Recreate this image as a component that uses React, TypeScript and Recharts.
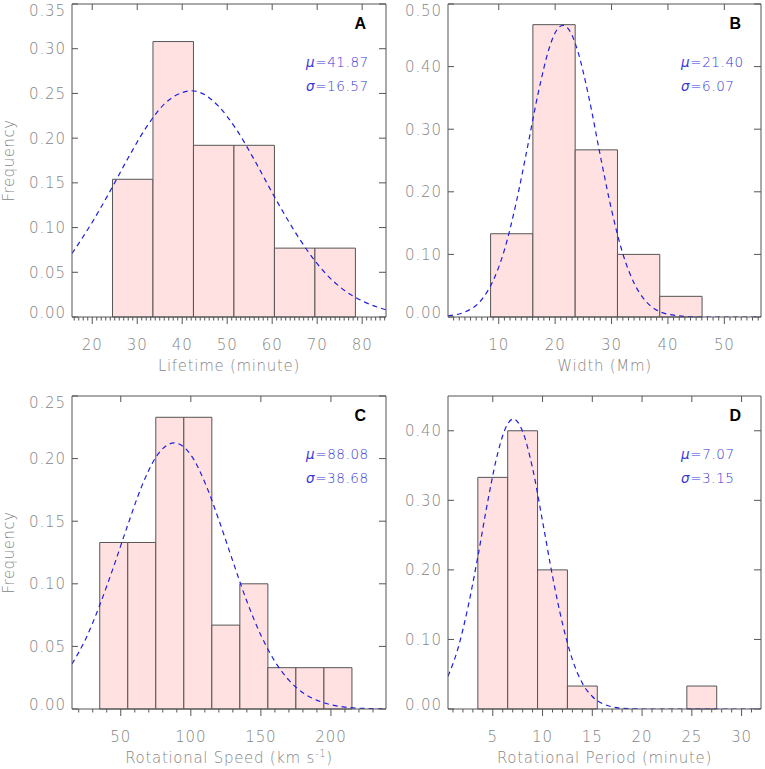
import React from 'react';
import { ComposedChart, XAxis, YAxis, Line, ReferenceArea } from 'recharts';

// ---------- Panel A: Lifetime ----------
const lifetimeEdges = [24.5, 33.5, 42.5, 51.5, 60.5, 69.5, 78.5];
const lifetimeFreq = [0.154, 0.308, 0.192, 0.192, 0.077, 0.077];
const lifetimeFitX = [15.5, 20, 24, 28, 32, 36, 40, 42, 44, 48, 52, 56, 60, 64, 68, 72, 76, 80, 85.3];
const lifetimeFitY = [0.071, 0.106, 0.141, 0.178, 0.212, 0.238, 0.251, 0.253, 0.251, 0.236, 0.210, 0.176, 0.139, 0.104, 0.073, 0.048, 0.030, 0.018, 0.008];
const lifetimeXTicks = [20, 30, 40, 50, 60, 70, 80];
const lifetimeYTicks = [0, 0.05, 0.1, 0.15, 0.2, 0.25, 0.3, 0.35];

// ---------- Panel B: Width ----------
const widthEdges = [8.55, 16.05, 23.55, 31.05, 38.55, 46.05];
const widthFreq = [0.133, 0.467, 0.267, 0.1, 0.033];
const widthFitX = [1, 4, 7, 9, 11, 13, 15, 17, 19, 20, 21.4, 23, 24, 26, 28, 30, 32, 34, 36, 38, 41, 45, 50, 56.5];
const widthFitY = [0.002, 0.008, 0.028, 0.058, 0.107, 0.179, 0.267, 0.358, 0.431, 0.454, 0.466, 0.450, 0.425, 0.350, 0.258, 0.171, 0.101, 0.054, 0.026, 0.011, 0.003, 0.0, 0.0, 0.0];
const widthXTicks = [10, 20, 30, 40, 50];
const widthYTicks = [0, 0.1, 0.2, 0.3, 0.4, 0.5];

// ---------- Panel C: Rotational speed ----------
const speedEdges = [35, 55, 75, 95, 115, 135, 155, 175, 195, 215];
const speedFreq = [0.133, 0.133, 0.233, 0.233, 0.067, 0.1, 0.033, 0.033, 0.033];
const speedFitX = [15.2, 25, 35, 45, 55, 65, 75, 88, 100, 110, 120, 130, 140, 150, 160, 170, 180, 195, 210, 225, 239.3];
const speedFitY = [0.036, 0.056, 0.083, 0.114, 0.147, 0.178, 0.201, 0.2125, 0.203, 0.181, 0.151, 0.118, 0.086, 0.059, 0.038, 0.023, 0.013, 0.005, 0.0015, 0.0004, 0.0001];
const speedXTicks = [50, 100, 150, 200];
const speedYTicks = [0, 0.05, 0.1, 0.15, 0.2, 0.25];

// ---------- Panel D: Rotational period ----------
const periodEdges = [3.5, 6.5, 9.5, 12.5, 15.5, 18.5, 21.5, 24.5, 27.5];
const periodFreq = [0.333, 0.4, 0.2, 0.033, 0, 0, 0, 0.033];
const periodFitX = [0.5, 1.5, 2.5, 3.5, 4.5, 5.5, 6.5, 7.07, 8, 9, 10, 11, 12, 13, 14, 15, 16, 17, 18, 20, 24, 28, 31.9];
const periodFitY = [0.047, 0.087, 0.146, 0.219, 0.299, 0.368, 0.410, 0.417, 0.399, 0.346, 0.270, 0.191, 0.123, 0.071, 0.037, 0.018, 0.008, 0.003, 0.001, 0.0, 0.0, 0.0, 0.0];
const periodXTicks = [5, 10, 15, 20, 25, 30];
const periodYTicks = [0, 0.1, 0.2, 0.3, 0.4];

const FRAME = '#555555';
const LABEL = '#858585';
const BAR_FILL = '#ffe1e1';
const FIT = '#1f1fe0';
const TEXT_BLUE = '#3838d8';
const FONT = '"DejaVu Sans", "Liberation Sans", sans-serif';
const WEIGHT = 200;

const range = (a: number, b: number, step: number) => {
  const out: number[] = [];
  for (let v = a; v <= b + 1e-9; v += step) out.push(Math.round(v * 1000) / 1000);
  return out;
};

const isIn = (arr: number[], v: number) => arr.some((m) => Math.abs(m - v) < 1e-6);

const makeBottomTick = (majors: number[]) => (props: any) => {
  const { x, y, payload } = props;
  const major = isIn(majors, payload.value);
  return (
    <g>
      <line x1={x} x2={x} y1={y} y2={y + (major ? 7 : 3.5)} stroke={FRAME} strokeWidth={1} />
      {major && (
        <text x={x} y={y + 33} textAnchor="middle" fontFamily={FONT} fontWeight={WEIGHT} fontSize={15} letterSpacing={0.9} fill={LABEL}>
          {payload.value}
        </text>
      )}
    </g>
  );
};

const makeTopTick = () => (props: any) => {
  const { x, y } = props;
  return <line x1={x} x2={x} y1={y} y2={y + 6} stroke={FRAME} strokeWidth={1} />;
};

const makeLeftTick = (yMax: number) => (props: any) => {
  const { x, y, payload } = props;
  let dy = 5.5;
  if (Math.abs(payload.value) < 1e-9) dy -= 4.5;
  if (Math.abs(payload.value - yMax) < 1e-9) dy += 6;
  return (
    <g>
      <line x1={x} x2={x + 6} y1={y} y2={y} stroke={FRAME} strokeWidth={1} />
      <text x={x - 6} y={y + dy} textAnchor="end" fontFamily={FONT} fontWeight={WEIGHT} fontSize={15} letterSpacing={0.9} fill={LABEL}>
        {Number(payload.value).toFixed(2)}
      </text>
    </g>
  );
};

const makeRightTick = () => (props: any) => {
  const { x, y } = props;
  return <line x1={x} x2={x - 7} y1={y} y2={y} stroke={FRAME} strokeWidth={1} />;
};

type PanelProps = {
  left: number;
  top: number;
  width: number;
  height: number;
  margin: { top: number; right: number; bottom: number; left: number };
  xDomain: [number, number];
  yDomain: [number, number];
  xMajor: number[];
  xMinor: number[];
  yTicks: number[];
  edges: number[];
  freqs: number[];
  fitX: number[];
  fitY: number[];
  letter: string;
  mu: string;
  sigma: string;
  xTitle: React.ReactNode;
  showYTitle: boolean;
};

const Panel = (p: PanelProps) => {
  const fitData = p.fitX.map((x, i) => ({ x, y: p.fitY[i] }));
  const bottomTicks = Array.from(new Set([...p.xMinor, ...p.xMajor])).sort((a, b) => a - b);
  return (
    <div style={{ position: 'absolute', left: p.left, top: p.top, width: p.width, height: p.height }}>
      <ComposedChart width={p.width} height={p.height} margin={p.margin}>
        <XAxis
          xAxisId="b"
          orientation="bottom"
          type="number"
          dataKey="x"
          domain={p.xDomain}
          allowDataOverflow
          ticks={bottomTicks}
          interval={0}
          height={30}
          tickSize={0}
          tickMargin={0}
          tickLine={false}
          axisLine={{ stroke: FRAME, strokeWidth: 1 }}
          tick={makeBottomTick(p.xMajor)}
          label={{
            content: (lp: any) => {
              const vb = lp.viewBox || {};
              return (
                <text
                  x={vb.x + vb.width / 2}
                  y={vb.y + 54}
                  textAnchor="middle"
                  fontFamily={FONT}
                  fontWeight={WEIGHT}
                  fontSize={15}
                  letterSpacing={0.7}
                  fill={LABEL}
                >
                  {p.xTitle}
                </text>
              );
            },
          }}
        />
        <XAxis
          xAxisId="t"
          orientation="top"
          type="number"
          dataKey="x"
          domain={p.xDomain}
          allowDataOverflow
          ticks={p.xMajor}
          interval={0}
          height={1}
          tickSize={0}
          tickMargin={0}
          tickLine={false}
          axisLine={{ stroke: FRAME, strokeWidth: 1 }}
          tick={makeTopTick()}
        />
        <YAxis
          yAxisId="l"
          orientation="left"
          type="number"
          domain={p.yDomain}
          allowDataOverflow
          ticks={p.yTicks}
          interval={0}
          width={40}
          tickSize={0}
          tickMargin={0}
          tickLine={false}
          axisLine={{ stroke: FRAME, strokeWidth: 1 }}
          tick={makeLeftTick(p.yDomain[1])}
          label={
            p.showYTitle
              ? {
                  content: (lp: any) => {
                    const vb = lp.viewBox || {};
                    const cx = vb.x + vb.width - 57.7;
                    const cy = vb.y + vb.height / 2;
                    return (
                      <text
                        x={cx}
                        y={cy}
                        transform={`rotate(-90 ${cx} ${cy})`}
                        textAnchor="middle"
                        fontFamily={FONT}
                        fontWeight={WEIGHT}
                        fontSize={15}
                        letterSpacing={0.5}
                        fill={LABEL}
                      >
                        Frequency
                      </text>
                    );
                  },
                }
              : undefined
          }
        />
        <YAxis
          yAxisId="r"
          orientation="right"
          type="number"
          domain={p.yDomain}
          allowDataOverflow
          ticks={p.yTicks}
          interval={0}
          width={1}
          tickSize={0}
          tickMargin={0}
          tickLine={false}
          axisLine={{ stroke: FRAME, strokeWidth: 1 }}
          tick={makeRightTick()}
          label={{
            content: (lp: any) => {
              const vb = lp.viewBox || {};
              const rx = vb.x;
              const ty = vb.y;
              return (
                <g>
                  <text
                    x={rx - 20}
                    y={ty + 25}
                    textAnchor="end"
                    fontFamily='"Liberation Sans", Arial, sans-serif'
                    fontWeight="bold"
                    fontSize={16}
                    fill="#000"
                  >
                    {p.letter}
                  </text>
                  <text x={rx - 80} y={ty + 62.5} fontFamily={FONT} fontWeight={WEIGHT} fontSize={13.5} letterSpacing={0.6} fill={TEXT_BLUE}>
                    <tspan fontStyle="italic">μ</tspan>={p.mu}
                  </text>
                  <text x={rx - 80} y={ty + 86.5} fontFamily={FONT} fontWeight={WEIGHT} fontSize={13.5} letterSpacing={0.6} fill={TEXT_BLUE}>
                    <tspan fontStyle="italic">σ</tspan>={p.sigma}
                  </text>
                </g>
              );
            },
          }}
        />
        {p.freqs.map((f, i) =>
          f > 0 ? (
            <ReferenceArea
              key={`bar-${i}`}
              xAxisId="b"
              yAxisId="l"
              x1={p.edges[i]}
              x2={p.edges[i + 1]}
              y1={0}
              y2={f}
              fill={BAR_FILL}
              fillOpacity={1}
              stroke={FRAME}
              strokeWidth={1}
              ifOverflow="visible"
            />
          ) : null
        )}
        <Line
          xAxisId="b"
          yAxisId="l"
          data={fitData}
          dataKey="y"
          type="monotone"
          stroke={FIT}
          strokeWidth={1.2}
          strokeDasharray="5 4"
          dot={false}
          activeDot={false}
          isAnimationActive={false}
        />
      </ComposedChart>
    </div>
  );
};

export default function App() {
  return (
    <div style={{ position: 'absolute', left: 0, top: 0, width: 765, height: 769, background: '#fff', overflow: 'hidden' }}>
      <Panel
        left={0}
        top={0}
        width={390}
        height={385}
        margin={{ top: 3, right: 3, bottom: 38, left: 32 }}
        xDomain={[15.5, 85.3]}
        yDomain={[0, 0.35]}
        xMajor={lifetimeXTicks}
        xMinor={range(16, 85, 1)}
        yTicks={lifetimeYTicks}
        edges={lifetimeEdges}
        freqs={lifetimeFreq}
        fitX={lifetimeFitX}
        fitY={lifetimeFitY}
        letter="A"
        mu="41.87"
        sigma="16.57"
        xTitle="Lifetime (minute)"
        showYTitle
      />
      <Panel
        left={390}
        top={0}
        width={375}
        height={385}
        margin={{ top: 3, right: 3, bottom: 38, left: 18 }}
        xDomain={[1.0, 56.5]}
        yDomain={[0, 0.5]}
        xMajor={widthXTicks}
        xMinor={range(2, 56, 1)}
        yTicks={widthYTicks}
        edges={widthEdges}
        freqs={widthFreq}
        fitX={widthFitX}
        fitY={widthFitY}
        letter="B"
        mu="21.40"
        sigma="6.07"
        xTitle="Width (Mm)"
        showYTitle={false}
      />
      <Panel
        left={0}
        top={385}
        width={390}
        height={384}
        margin={{ top: 10, right: 3, bottom: 30, left: 32 }}
        xDomain={[15.2, 239.3]}
        yDomain={[0, 0.25]}
        xMajor={speedXTicks}
        xMinor={range(20, 230, 10)}
        yTicks={speedYTicks}
        edges={speedEdges}
        freqs={speedFreq}
        fitX={speedFitX}
        fitY={speedFitY}
        letter="C"
        mu="88.08"
        sigma="38.68"
        xTitle={
          <>
            Rotational Speed (km s
            <tspan dy={-6} fontSize={10}>
              -1
            </tspan>
            <tspan dy={6}>)</tspan>
          </>
        }
        showYTitle
      />
      <Panel
        left={390}
        top={385}
        width={375}
        height={384}
        margin={{ top: 10, right: 3, bottom: 30, left: 18 }}
        xDomain={[0.5, 31.95]}
        yDomain={[0, 0.45]}
        xMajor={periodXTicks}
        xMinor={range(1, 31, 1)}
        yTicks={periodYTicks}
        edges={periodEdges}
        freqs={periodFreq}
        fitX={periodFitX}
        fitY={periodFitY}
        letter="D"
        mu="7.07"
        sigma="3.15"
        xTitle="Rotational Period (minute)"
        showYTitle={false}
      />
    </div>
  );
}
